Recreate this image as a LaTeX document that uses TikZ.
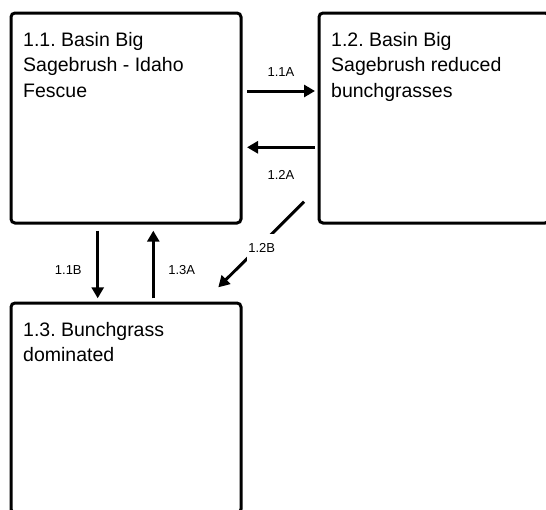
\documentclass[tikz,border=0pt]{standalone}
\usepackage{fontspec}
\setmainfont{Liberation Sans}
\usetikzlibrary{arrows.meta,calc}
\begin{document}
\frenchspacing
\begin{tikzpicture}[x=1pt,y=-1pt,
 box/.style={draw, line width=3pt, rounded corners=4pt, minimum width=230pt, minimum height=210pt, inner sep=0pt, outer sep=0pt, anchor=north west},
 boxtext/.style={anchor=north west, inner sep=0pt, align=left, font=\fontsize{19.5}{25.5}\selectfont},
 lab/.style={font=\fontsize{13}{15}\selectfont, inner sep=1pt},
 arr/.style={line width=3pt, -{Triangle[length=11pt,width=12pt]}}]
\useasboundingbox (0,0) rectangle (546,509);
\clip (0,0) rectangle (546,509);
\node[box] (b11) at (11,13) {};
\node[box] (b12) at (319,13) {};
\node[box] (b13) at (11,303) {};
\node[boxtext] (t11) at (23,31.7) {1.1. Basin Big\\Sagebrush - Idaho\\Fescue};
\node[boxtext] (t12) at (331,31.7) {1.2. Basin Big\\Sagebrush reduced\\bunchgrasses};
\node[boxtext] (t13) at (23,321.7) {1.3. Bunchgrass\\dominated};
\draw[arr] ($(b11.north east)+(6,78)$) -- ($(b12.north west)+(-4,78)$);
\draw[arr] ($(b12.north west)+(-4,134.3)$) -- ($(b11.north east)+(6,134.3)$);
\draw[arr] ($(b12.south west)+(-15,-21.3)$) -- ($(b13.north east)+(-22.7,-15.7)$);
\draw[arr] ($(b11.south west)+(86.7,7.7)$) -- ($(b13.north west)+(86.7,-4.7)$);
\draw[arr] ($(b13.north west)+(142.3,-4.7)$) -- ($(b11.south west)+(142.3,7.7)$);
\node[lab] (l11a) at (281,71.7) {1.1A};
\node[lab] (l12a) at (281,175) {1.2A};
\node[lab, fill=white, inner ysep=10pt] (l12b) at (261.7,248.3) {1.2B};
\node[lab] (l11b) at (68.3,270) {1.1B};
\node[lab] (l13a) at (181.7,270) {1.3A};
\end{tikzpicture}
\end{document}
